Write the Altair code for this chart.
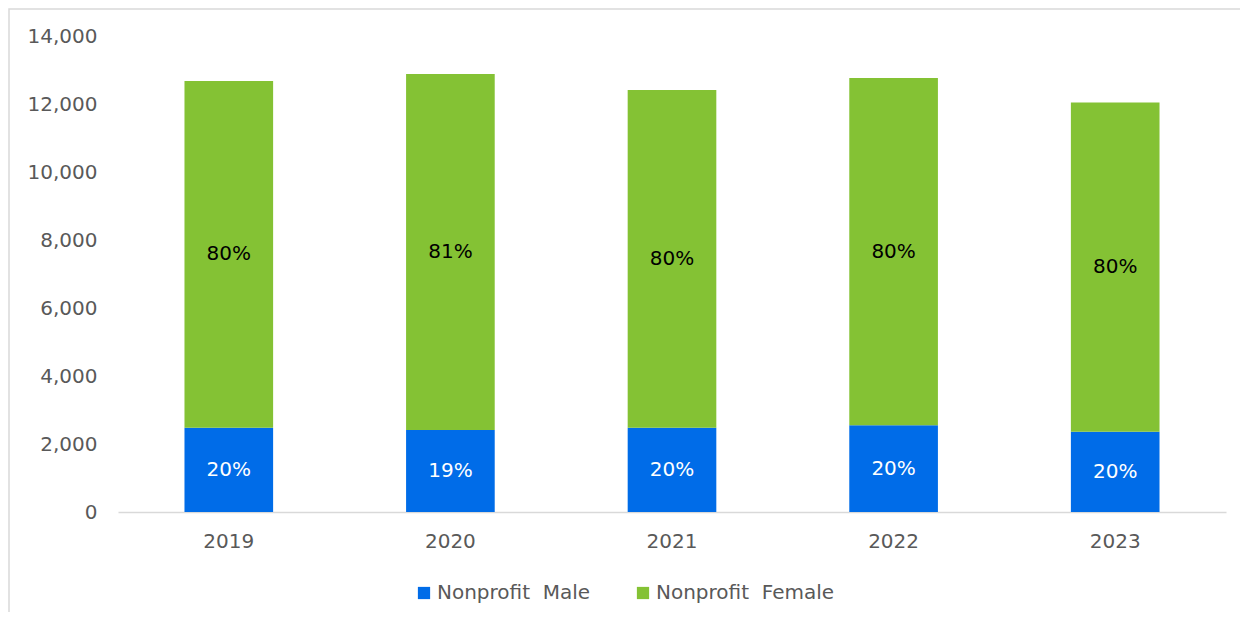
import altair as alt
import pandas as pd

years = ["2019", "2020", "2021", "2022", "2023"]
male = [2480, 2412, 2480, 2550, 2360]
female = [10196, 10470, 9932, 10215, 9686]
series = ["Nonprofit\u00a0\u00a0Male", "Nonprofit\u00a0\u00a0Female"]
colors = ["#006CE8", "#84C234"]
y_ticks = [0, 2000, 4000, 6000, 8000, 10000, 12000, 14000]

rows = []
for i, yr in enumerate(years):
    rows.append({"year": yr, "series": series[0], "value": male[i], "order": 0})
    rows.append({"year": yr, "series": series[1], "value": female[i], "order": 1})
df = pd.DataFrame(rows)

base = (
    alt.Chart(df)
    .transform_stack(stack="value", groupby=["year"], as_=["y0", "y1"],
                     sort=[alt.SortField("order", order="ascending")])
    .transform_joinaggregate(total="sum(value)", groupby=["year"])
    .transform_calculate(mid="(datum.y0 + datum.y1) / 2",
                         pct="round(datum.value / datum.total * 100) + '%'")
)

FONT_SIZE = 20
x_scale = alt.Scale(paddingInner=0.6, paddingOuter=0.3)
x_axis = alt.Axis(labelAngle=0, labelFontSize=FONT_SIZE, labelColor="#595959",
                  ticks=False, domainColor="#d9d9d9", domainWidth=1.5,
                  labelPadding=19, grid=False, title=None)
y_scale = alt.Scale(domain=[0, 14000], nice=False)
y_axis = alt.Axis(values=y_ticks, format=",.0f", labelFontSize=FONT_SIZE,
                  labelColor="#595959", domain=False, ticks=False,
                  grid=False, labelPadding=21, title=None)

bars = base.mark_bar().encode(
    x=alt.X("year:N", title=None, scale=x_scale, axis=x_axis),
    y=alt.Y("y1:Q", title=None, scale=y_scale, axis=y_axis),
    y2="y0:Q",
    color=alt.Color("series:N", scale=alt.Scale(domain=series, range=colors),
                    legend=alt.Legend(title=None, orient="none", legendX=296, legendY=547,
                                      direction="horizontal", symbolType="square",
                                      symbolSize=150, symbolStrokeWidth=0,
                                      labelFontSize=FONT_SIZE, labelColor="#595959",
                                      labelLimit=400, columnPadding=42, labelOffset=3)),
)

text_male = base.transform_filter(alt.datum.order == 0).mark_text(
    fontSize=FONT_SIZE, color="white", baseline="middle").encode(
    x=alt.X("year:N", scale=x_scale, axis=x_axis, title=None),
    y=alt.Y("mid:Q", scale=y_scale, axis=y_axis, title=None), text="pct:N")
text_female = base.transform_filter(alt.datum.order == 1).mark_text(
    fontSize=FONT_SIZE, color="black", baseline="middle").encode(
    x=alt.X("year:N", scale=x_scale, axis=x_axis, title=None),
    y=alt.Y("mid:Q", scale=y_scale, axis=y_axis, title=None), text="pct:N")

border = alt.Chart(pd.DataFrame({"a": [0]})).mark_rect(
    filled=False, stroke="#d9d9d9", strokeWidth=1.5).encode(
    x=alt.value(-109), y=alt.value(-27), x2=alt.value(1300), y2=alt.value(700))

chart = (
    alt.layer(border, bars, text_male, text_female)
    .properties(width=1108, height=476,
                padding={"left": 110, "top": 28, "right": 14, "bottom": 100},
                autosize=alt.AutoSizeParams(type="none"))
    .configure(font="DejaVu Sans")
    .configure_view(stroke=None)
)

chart.save("out.html", embed_options={"renderer": "svg", "actions": False})
